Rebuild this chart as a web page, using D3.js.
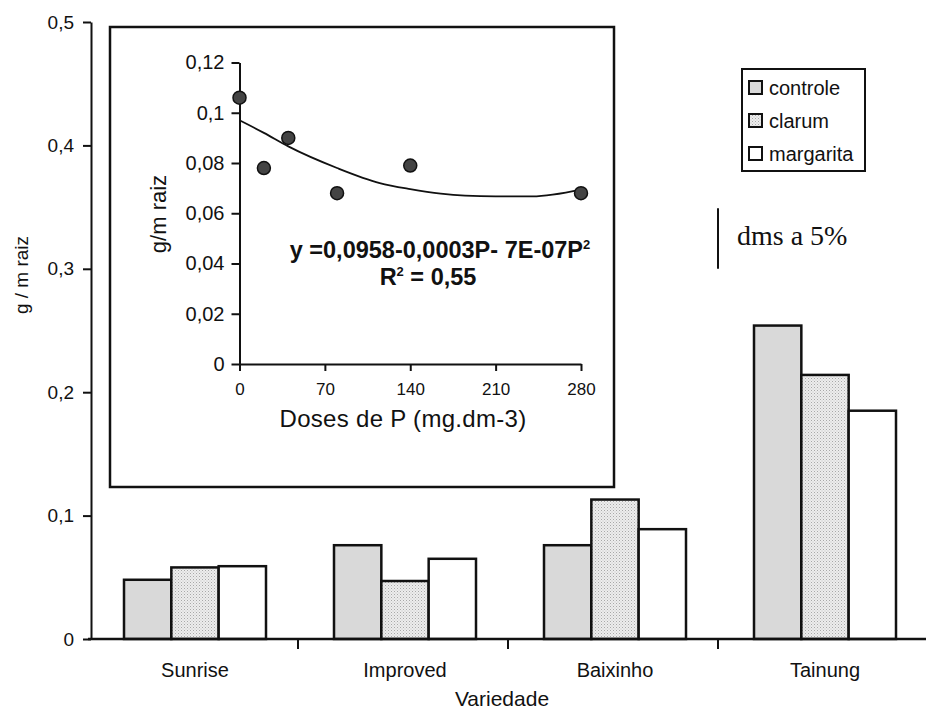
<!DOCTYPE html>
<html>
<head>
<meta charset="utf-8">
<script src="https://cdn.jsdelivr.net/npm/d3@7"></script>
<style>
  html, body { margin: 0; padding: 0; background: #fff; }
  svg { display: block; }
  text { font-family: "Liberation Sans", Arial, sans-serif; fill: #111; }
</style>
</head>
<body>
<svg id="chart" width="926" height="712"></svg>
<script>
// ---------- data ----------
const categories = ["Sunrise", "Improved", "Baixinho", "Tainung"];
const seriesNames = ["controle", "clarum", "margarita"];
const controle  = [0.048, 0.076, 0.076, 0.254];
const clarum    = [0.058, 0.047, 0.113, 0.214];
const margarita = [0.059, 0.065, 0.089, 0.185];
const mainTicks = [0, 0.1, 0.2, 0.3, 0.4, 0.5];
const dms = [0.300, 0.349];

// inset (dose response)
const doses = [0, 20, 40, 80, 140, 280];
const gmRaiz = [0.106, 0.078, 0.090, 0.068, 0.079, 0.068];
const trendP = [0, 20, 40, 80, 115, 140, 165, 185, 210, 240, 280];
const trendY = [0.0970, 0.0920, 0.0866, 0.0780, 0.0720, 0.0696, 0.0678, 0.0670, 0.0667, 0.0667, 0.0694];
const insetYTicks = [0, 0.02, 0.04, 0.06, 0.08, 0.1, 0.12];
const insetXTicks = [0, 70, 140, 210, 280];

const seriesValues = { controle, clarum, margarita };

// ---------- setup ----------
const svg = d3.select("#chart");
const defs = svg.append("defs");
const pat = defs.append("pattern").attr("id", "dots").attr("patternUnits", "userSpaceOnUse")
  .attr("width", 3).attr("height", 3);
pat.append("rect").attr("width", 3).attr("height", 3).attr("fill", "#ededed");
pat.append("rect").attr("x", 0).attr("y", 0).attr("width", 1).attr("height", 1).attr("fill", "#a8a8a8");
pat.append("rect").attr("x", 1.5).attr("y", 1.5).attr("width", 1).attr("height", 1).attr("fill", "#c4c4c4");

const fills = { controle: "#d9d9d9", clarum: "url(#dots)", margarita: "#ffffff" };
const commaFmt = (d, f) => d === 0 ? "0" : d3.format(f)(d).replace(".", ",");

// ---------- main chart ----------
const y = d3.scaleLinear().domain([0, 0.5]).range([639, 22]);
const x0 = d3.scaleBand().domain(categories).range([88, 928]).padding(0);
const x1 = d3.scaleBand().domain(seriesNames).range([36, 178]).padding(0);

// bars
const groups = svg.append("g").selectAll("g").data(categories).join("g")
  .attr("transform", c => `translate(${x0(c)},0)`);
groups.selectAll("rect").data((c, i) => seriesNames.map(s => ({ s, v: seriesValues[s][i] })))
  .join("rect")
  .attr("x", d => x1(d.s))
  .attr("y", d => y(d.v))
  .attr("width", x1.bandwidth())
  .attr("height", d => y(0) - y(d.v))
  .attr("fill", d => fills[d.s])
  .attr("stroke", "#111")
  .attr("stroke-width", 2.5);

// y axis
const yAxis = svg.append("g").attr("transform", "translate(91,0)")
  .call(d3.axisLeft(y).tickValues(mainTicks).tickSize(8).tickSizeOuter(0).tickPadding(9)
    .tickFormat(d => commaFmt(d, ".1f")));
yAxis.select(".domain").attr("stroke", "#111").attr("stroke-width", 2);
yAxis.selectAll(".tick line").attr("stroke", "#111").attr("stroke-width", 2);
yAxis.selectAll(".tick text").attr("font-size", 19).attr("fill", "#111")
  .style("font-family", '"Liberation Sans", Arial, sans-serif');

// x axis baseline + boundary ticks
svg.append("line").attr("x1", 88).attr("x2", 926).attr("y1", y(0)).attr("y2", y(0))
  .attr("stroke", "#111").attr("stroke-width", 2.5);
svg.append("g").selectAll("line").data(categories.slice(1)).join("line")
  .attr("x1", c => x0(c)).attr("x2", c => x0(c))
  .attr("y1", y(0)).attr("y2", y(0) + 10)
  .attr("stroke", "#111").attr("stroke-width", 2);
svg.append("g").selectAll("text").data(categories).join("text")
  .attr("x", c => x0(c) + x0.bandwidth() / 2 + 2)
  .attr("y", 677)
  .attr("text-anchor", "middle").attr("font-size", 20)
  .text(c => c);

// axis titles
svg.append("text").attr("x", 502).attr("y", 706).attr("text-anchor", "middle")
  .attr("font-size", 21).text("Variedade");
svg.append("text").attr("transform", "translate(28,275) rotate(-90)")
  .attr("text-anchor", "middle").attr("font-size", 19).text("g / m raiz");

// legend
const lg = svg.append("g");
lg.append("rect").attr("x", 742).attr("y", 69).attr("width", 123).attr("height", 102)
  .attr("fill", "#fff").attr("stroke", "#111").attr("stroke-width", 2);
const li = lg.selectAll("g.item").data(seriesNames).join("g")
  .attr("transform", (d, i) => `translate(749,${88 + i * 33})`);
li.append("rect").attr("x", 0).attr("y", -7).attr("width", 13).attr("height", 13)
  .attr("fill", d => fills[d]).attr("stroke", "#111").attr("stroke-width", 2);
li.append("text").attr("x", 20).attr("y", 7).attr("font-size", 20).text(d => d);

// dms bar
svg.append("line").attr("x1", 718).attr("x2", 718).attr("y1", y(dms[1])).attr("y2", y(dms[0]))
  .attr("stroke", "#111").attr("stroke-width", 2);
svg.append("text").attr("x", 737).attr("y", 245).attr("font-size", 28)
  .style("font-family", '"Liberation Serif", "Times New Roman", serif').text("dms a 5%");

// ---------- inset ----------
svg.append("rect").attr("x", 110).attr("y", 27).attr("width", 504).attr("height", 460)
  .attr("fill", "#fff").attr("stroke", "#111").attr("stroke-width", 2.5);

const iy = d3.scaleLinear().domain([0, 0.12]).range([364, 62.5]);
const ix = d3.scaleLinear().domain([0, 280]).range([239.5, 581]);

const iyAxis = svg.append("g").attr("transform", "translate(239.5,0)")
  .call(d3.axisLeft(iy).tickValues(insetYTicks).tickSize(8).tickSizeOuter(0).tickPadding(7)
    .tickFormat(d => d === 0 ? "0" : (Math.abs(d - 0.1) < 1e-9 ? "0,1" : commaFmt(d, ".2f"))));
iyAxis.select(".domain").attr("stroke", "#111").attr("stroke-width", 2);
iyAxis.selectAll(".tick line").attr("stroke", "#111").attr("stroke-width", 2);
iyAxis.selectAll(".tick text").attr("font-size", 20).attr("fill", "#111")
  .style("font-family", '"Liberation Sans", Arial, sans-serif');

const ixAxis = svg.append("g").attr("transform", "translate(0,364)")
  .call(d3.axisBottom(ix).tickValues(insetXTicks).tickSize(7).tickSizeOuter(0).tickPadding(12)
    .tickFormat(d => String(d)));
ixAxis.select(".domain").attr("stroke", "#111").attr("stroke-width", 2);
ixAxis.selectAll(".tick line").attr("stroke", "#111").attr("stroke-width", 2);
ixAxis.selectAll(".tick text").attr("font-size", 17).attr("fill", "#111")
  .style("font-family", '"Liberation Sans", Arial, sans-serif');

// trend line
const trend = trendP.map((p, i) => [p, trendY[i]]);
svg.append("path").datum(trend)
  .attr("d", d3.line().x(d => ix(d[0])).y(d => iy(d[1])).curve(d3.curveMonotoneX))
  .attr("fill", "none").attr("stroke", "#111").attr("stroke-width", 1.8);

// points
svg.append("g").selectAll("circle").data(doses.map((p, i) => [p, gmRaiz[i]])).join("circle")
  .attr("cx", d => ix(d[0])).attr("cy", d => iy(d[1])).attr("r", 6.5)
  .attr("fill", "#444").attr("stroke", "#111").attr("stroke-width", 1.5);

// inset titles
svg.append("text").attr("x", 403).attr("y", 427).attr("text-anchor", "middle")
  .attr("font-size", 24).attr("letter-spacing", 0.3).text("Doses de P (mg.dm-3)");
svg.append("text").attr("transform", "translate(166,214) rotate(-90)")
  .attr("text-anchor", "middle").attr("font-size", 22).text("g/m raiz");

// equation
const eq = svg.append("text").attr("x", 440).attr("y", 258).attr("text-anchor", "middle")
  .attr("font-size", 23.5).attr("font-weight", "bold");
eq.append("tspan").text("y =0,0958-0,0003P- 7E-07P");
eq.append("tspan").attr("font-size", 13).attr("dy", -9).text("2");
const r2 = svg.append("text").attr("x", 428).attr("y", 285).attr("text-anchor", "middle")
  .attr("font-size", 23.5).attr("font-weight", "bold");
r2.append("tspan").text("R");
r2.append("tspan").attr("font-size", 13).attr("dy", -9).text("2");
r2.append("tspan").attr("dy", 9).text(" = 0,55");
</script>
</body>
</html>
